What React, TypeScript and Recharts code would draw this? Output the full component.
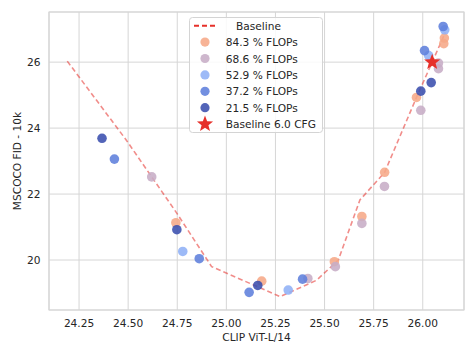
import { ScatterChart, Scatter, XAxis, YAxis, CartesianGrid, ReferenceArea, Label } from 'recharts';

// baseline sweep (dashed line)
const baselineX = [24.19, 24.49, 24.75, 24.925, 25.274, 25.46, 25.57, 25.68, 25.806, 25.968, 26.048, 26.115];
const baselineY = [26.03, 23.64, 21.4, 19.8, 18.89, 19.39, 20.0, 21.82, 22.66, 24.93, 26.0, 26.9];

const flops843X = [24.743, 25.18, 25.55, 25.69, 25.806, 25.968, 26.107, 26.11];
const flops843Y = [21.13, 19.36, 19.95, 21.32, 22.66, 24.93, 26.56, 26.73];

const flops686X = [24.62, 25.415, 25.555, 25.69, 25.805, 25.99, 26.08, 26.08];
const flops686Y = [22.52, 19.44, 19.8, 21.11, 22.23, 24.54, 25.8, 25.97];

const flops529X = [24.778, 25.315, 26.03, 26.112];
const flops529Y = [20.26, 19.09, 26.2, 26.98];

const flops372X = [24.43, 24.862, 25.116, 25.388, 26.009, 26.104];
const flops372Y = [23.06, 20.04, 19.02, 19.42, 26.35, 27.08];

const flops215X = [24.367, 24.748, 25.16, 25.99, 26.043];
const flops215Y = [23.69, 20.92, 19.23, 25.12, 25.38];

const cfgX = [26.048];
const cfgY = [26.0];

const xTicks = [24.25, 24.5, 24.75, 25.0, 25.25, 25.5, 25.75, 26.0];
const yTicks = [20, 22, 24, 26];
const xDomain = [24.097, 26.21];
const yDomain = [18.485, 27.52];

const zip = (xs: number[], ys: number[]) => xs.map((x, i) => ({ x, y: ys[i] }));

const series = [
  { name: '84.3 % FLOPs', color: '#f6a888', data: zip(flops843X, flops843Y) },
  { name: '68.6 % FLOPs', color: '#c7adc6', data: zip(flops686X, flops686Y) },
  { name: '52.9 % FLOPs', color: '#8fb0f6', data: zip(flops529X, flops529Y) },
  { name: '37.2 % FLOPs', color: '#5f80dc', data: zip(flops372X, flops372Y) },
  { name: '21.5 % FLOPs', color: '#3a4eae', data: zip(flops215X, flops215Y) },
];

const FONT = '"DejaVu Sans", sans-serif';
const TEXT = '#262626';
const GRID = '#d6d6d6';
const RED = '#e6302a';

const starPath = (cx: number, cy: number, ro: number, ri: number) => {
  const pts: string[] = [];
  for (let i = 0; i < 10; i++) {
    const r = i % 2 === 0 ? ro : ri;
    const a = -Math.PI / 2 + (i * Math.PI) / 5;
    pts.push(`${(cx + r * Math.cos(a)).toFixed(2)},${(cy + r * Math.sin(a)).toFixed(2)}`);
  }
  return `M${pts.join('L')}Z`;
};

const Dot = (color: string) => (props: any) => (
  <circle cx={props.cx} cy={props.cy} r={4.8} fill={color} fillOpacity={0.88} />
);

const Star = (props: any) => <path d={starPath(props.cx, props.cy, 8.5, 3.6)} fill={RED} />;

const Empty = () => <g />;

const ChartLegend = () => {
  const rowY = (i: number) => 11.7 + i * 16.4;
  return (
    <svg width={140} height={122} style={{ position: 'absolute', left: 186, top: 14 }}>
      <rect x={3.5} y={3.5} width={133} height={115} rx={3} fill="#fff" fillOpacity={0.85} stroke="#d4d4d4" />
      <line x1={8} x2={30} y1={rowY(0)} y2={rowY(0)} stroke={RED} strokeWidth={1.9} strokeDasharray="5 3" />
      <text x={50} y={rowY(0)} dominantBaseline="central" fontSize={10.6} fill={TEXT} fontFamily={FONT}>
        Baseline
      </text>
      {series.map((s, i) => (
        <g key={s.name}>
          <circle cx={19} cy={rowY(i + 1)} r={4.6} fill={s.color} fillOpacity={0.88} />
          <text x={39.7} y={rowY(i + 1)} dominantBaseline="central" fontSize={10.6} fill={TEXT} fontFamily={FONT}>
            {s.name}
          </text>
        </g>
      ))}
      <path d={starPath(19, rowY(6), 8.5, 3.6)} fill={RED} />
      <text x={39.7} y={rowY(6)} dominantBaseline="central" fontSize={10.6} fill={TEXT} fontFamily={FONT}>
        Baseline 6.0 CFG
      </text>
    </svg>
  );
};

export default function App() {
  return (
    <div style={{ position: 'absolute', left: 0, top: 0, width: 476, height: 357, background: '#fff', fontFamily: FONT }}>
      <ScatterChart width={476} height={357} margin={{ top: 12, right: 12, bottom: 0, left: 0 }}>
        <CartesianGrid stroke={GRID} strokeWidth={1} />
        <ReferenceArea
          x1={xDomain[0]}
          x2={xDomain[1]}
          y1={yDomain[0]}
          y2={yDomain[1]}
          fill="none"
          stroke={GRID}
          strokeWidth={1.2}
          ifOverflow="visible"
        />
        <XAxis
          type="number"
          dataKey="x"
          domain={xDomain}
          ticks={xTicks}
          allowDataOverflow
          height={47}
          axisLine={false}
          tickLine={false}
          tickSize={0}
          tickMargin={9}
          tick={{ fill: TEXT, fontSize: 10.6, fontFamily: FONT }}
          tickFormatter={(v: number) => v.toFixed(2)}
        >
          <Label value="CLIP ViT-L/14" position="insideBottom" offset={16} fill={TEXT} fontSize={10.6} fontFamily={FONT} />
        </XAxis>
        <YAxis
          type="number"
          dataKey="y"
          domain={yDomain}
          ticks={yTicks}
          allowDataOverflow
          width={49}
          axisLine={false}
          tickLine={false}
          tickSize={0}
          tickMargin={8.5}
          tick={{ fill: TEXT, fontSize: 10.6, fontFamily: FONT }}
        >
          <Label
            content={() => (
              <text
                x={17}
                y={161}
                transform="rotate(-90 17 161)"
                textAnchor="middle"
                dominantBaseline="central"
                fill={TEXT}
                fontSize={10.6}
                fontFamily={FONT}
              >
                MSCOCO FID - 10k
              </text>
            )}
          />
        </YAxis>
        <Scatter
          name="Baseline"
          data={zip(baselineX, baselineY)}
          line={{ stroke: RED, strokeOpacity: 0.55, strokeWidth: 1.6, strokeDasharray: '5 3' }}
          lineType="joint"
          shape={Empty}
          isAnimationActive={false}
        />
        {series.map((s) => (
          <Scatter key={s.name} name={s.name} data={s.data} shape={Dot(s.color)} isAnimationActive={false} />
        ))}
        <Scatter name="Baseline 6.0 CFG" data={zip(cfgX, cfgY)} shape={Star} isAnimationActive={false} />
      </ScatterChart>
      <ChartLegend />
    </div>
  );
}
